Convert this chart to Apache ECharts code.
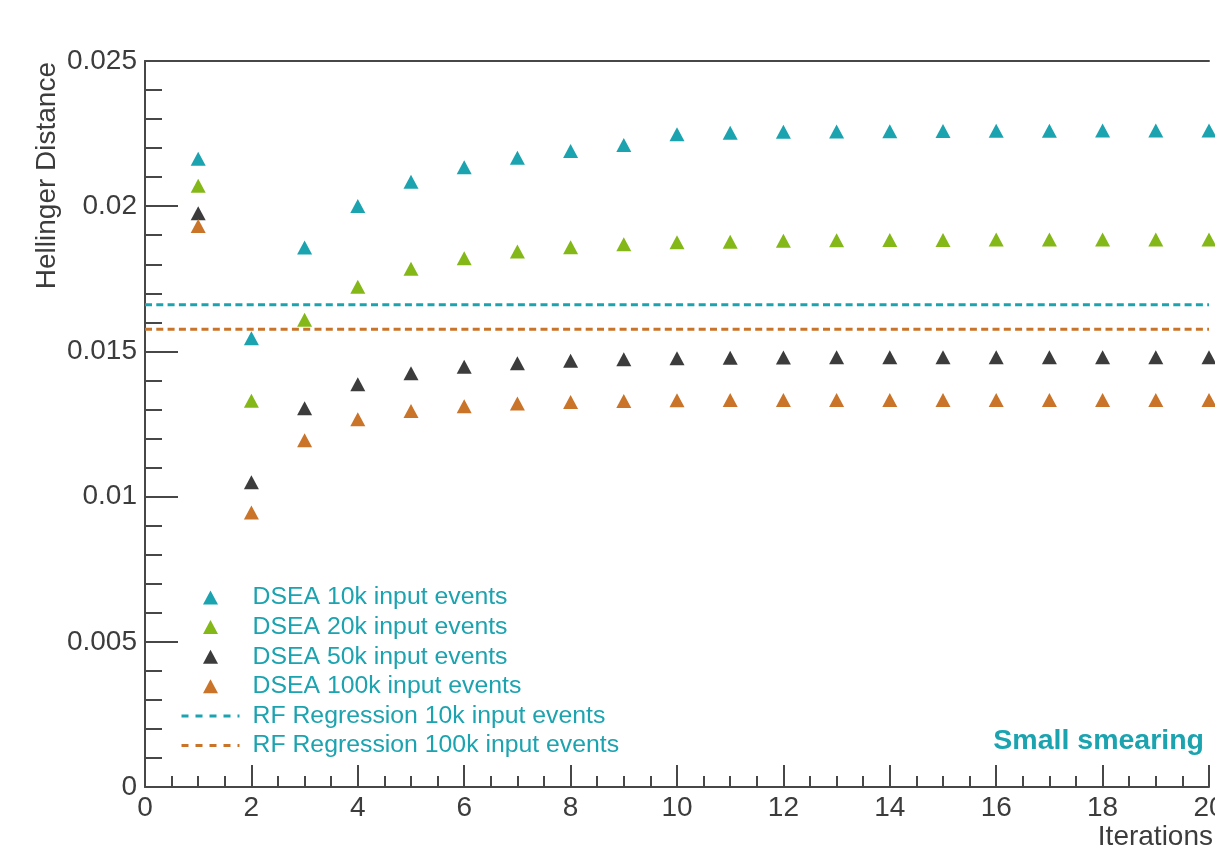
<!DOCTYPE html>
<html>
<head>
<meta charset="utf-8">
<script src="https://cdn.jsdelivr.net/npm/echarts@6/dist/echarts.min.js"></script>
<style>
html,body{margin:0;padding:0;background:#fff;}
#chart{width:1215px;height:846px;}
</style>
</head>
<body>
<div id="chart"></div>
<script>
// ---- data ----
const iterations = [1,2,3,4,5,6,7,8,9,10,11,12,13,14,15,16,17,18,19,20];
const dsea10k  = [0.02163,0.01545,0.01858,0.02001,0.02084,0.02134,0.02167,0.02190,0.02211,0.02248,0.02253,0.02256,0.02257,0.02258,0.02259,0.02260,0.02260,0.02261,0.02261,0.02261];
const dsea20k  = [0.02070,0.01330,0.01609,0.01723,0.01785,0.01821,0.01844,0.01859,0.01869,0.01876,0.01878,0.01881,0.01883,0.01884,0.01884,0.01885,0.01885,0.01885,0.01885,0.01885];
const dsea50k  = [0.01976,0.01049,0.01304,0.01387,0.01425,0.01447,0.01459,0.01468,0.01473,0.01476,0.01478,0.01479,0.01480,0.01480,0.01480,0.01480,0.01480,0.01480,0.01480,0.01480];
const dsea100k = [0.01932,0.00945,0.01194,0.01266,0.01295,0.01311,0.01321,0.01326,0.01329,0.01332,0.01333,0.01333,0.01333,0.01333,0.01333,0.01333,0.01333,0.01333,0.01333,0.01333];
const rf10k = 0.01661;
const rf100k = 0.01576;
const xRange = [0, 20];
const yRange = [0, 0.025];
const seriesNames = ['DSEA 10k input events','DSEA 20k input events','DSEA 50k input events','DSEA 100k input events','RF Regression 10k input events','RF Regression 100k input events'];
const yTitle = 'Hellinger Distance';
const xTitle = 'Iterations';
const tag = 'Small smearing';

// ---- style ----
const FONT = 'Liberation Sans, Arial, Helvetica, sans-serif';
const TEXT = '#3c3c3c';
const AXIS = '#474747';
const C10 = '#1ba3b0', C20 = '#84b819', C50 = '#3c3c3c', C100 = '#c97428';
const TRI = 'path://M7.5,0L15,14L0,14Z';

const pairs = arr => iterations.map((x, i) => [x, arr[i]]);
const hline = v => [[xRange[0], v], [xRange[1], v]];

const scatter = (name, arr, color) => ({
  name, type: 'scatter', data: pairs(arr),
  symbol: 'triangle', symbolSize: [15, 14],
  itemStyle: { color, opacity: 1 }, emphasis: { disabled: true }
});
const dashed = (name, v, color) => ({
  name, type: 'line', data: hline(v), symbol: 'none',
  lineStyle: { color, width: 3, type: [7, 4.3] },
  itemStyle: { color: 'rgba(0,0,0,0)' }, emphasis: { disabled: true }
});

const chart = echarts.init(document.getElementById('chart'), null, { renderer: 'canvas' });
chart.setOption({
  animation: false,
  backgroundColor: '#ffffff',
  grid: { left: 145, right: 6, top: 61, bottom: 59, containLabel: false, outerBoundsMode: 'none' },
  legend: {
    orient: 'vertical', left: 180, top: 585, padding: 0,
    itemWidth: 58, itemHeight: 14, itemGap: 4.6,
    symbolKeepAspect: true,
    data: seriesNames.map((n, i) => i < 4 ? { name: n, icon: TRI } : { name: n }),
    selectedMode: false,
    lineStyle: { type: [7, 7], width: 3 },
    textStyle: { fontFamily: FONT, fontSize: 24.8, lineHeight: 24, color: C10, padding: [0, 0, 0, 8] }
  },
  xAxis: [{
    type: 'value', min: xRange[0], max: xRange[1], interval: 2,
    axisLine: { show: true, onZero: false, lineStyle: { color: AXIS, width: 2 } },
    axisTick: { show: true, inside: true, length: 22, lineStyle: { color: AXIS, width: 2 } },
    minorTick: { show: true, splitNumber: 4, length: 11, lineStyle: { color: AXIS, width: 2 } },
    splitLine: { show: false },
    axisLabel: { fontFamily: FONT, fontSize: 28, color: TEXT, margin: 7 }
  }, {
    type: 'value', position: 'top', min: xRange[0], max: xRange[1],
    axisLine: { show: true, onZero: false, lineStyle: { color: AXIS, width: 2 } },
    axisTick: { show: false }, axisLabel: { show: false }, splitLine: { show: false }
  }],
  yAxis: {
    type: 'value', min: yRange[0], max: yRange[1], interval: 0.005,
    axisLine: { show: true, onZero: false, lineStyle: { color: AXIS, width: 2 } },
    axisTick: { show: true, inside: true, length: 33, lineStyle: { color: AXIS, width: 2 } },
    minorTick: { show: true, splitNumber: 5, length: 17, lineStyle: { color: AXIS, width: 2 } },
    splitLine: { show: false },
    axisLabel: { fontFamily: FONT, fontSize: 28, color: TEXT, margin: 8,
      formatter: v => (v === 0 ? '0' : String(+v.toFixed(3))) }
  },
  series: [
    scatter(seriesNames[0], dsea10k, C10),
    scatter(seriesNames[1], dsea20k, C20),
    scatter(seriesNames[2], dsea50k, C50),
    scatter(seriesNames[3], dsea100k, C100),
    dashed(seriesNames[4], rf10k, C10),
    dashed(seriesNames[5], rf100k, C100)
  ],
  graphic: [
    { type: 'text', x: 47, y: 62, rotation: Math.PI / 2,
      style: { text: yTitle, fontFamily: FONT, fontSize: 28, fill: TEXT, align: 'right', verticalAlign: 'middle' } },
    { type: 'text', x: 1213, y: 837,
      style: { text: xTitle, fontFamily: FONT, fontSize: 28, fill: TEXT, align: 'right', verticalAlign: 'middle' } },
    { type: 'text', x: 1204, y: 741,
      style: { text: tag, fontFamily: FONT, fontSize: 28.5, fontWeight: 'bold', fill: C10, align: 'right', verticalAlign: 'middle' } }
  ]
});
</script>
</body>
</html>
